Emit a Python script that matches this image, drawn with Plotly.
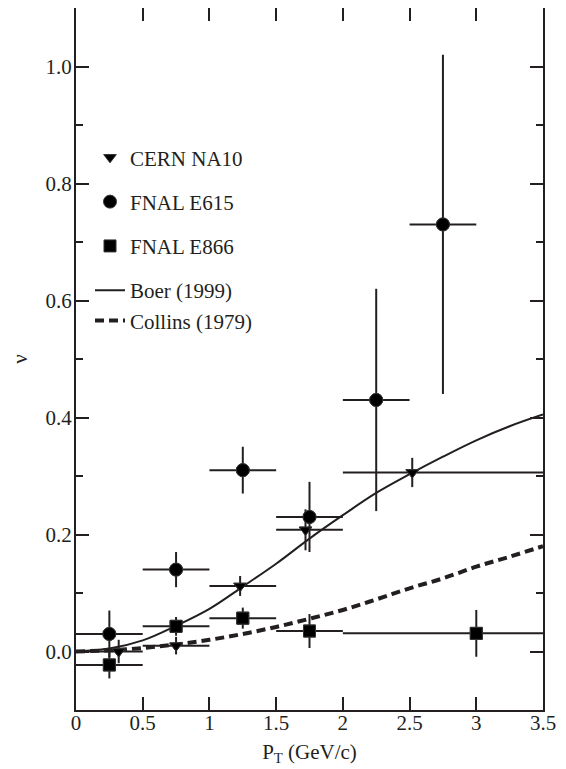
import plotly.graph_objects as go

# ---- data ----
# CERN NA10 (down triangles)
na10_x = [0.32, 0.75, 1.23, 1.72, 2.52]
na10_y = [0.000, 0.010, 0.112, 0.208, 0.306]
na10_lo = [0.0, 0.5, 1.0, 1.5, 2.0]
na10_hi = [0.5, 1.0, 1.5, 2.0, 3.5]
na10_err = [0.020, 0.015, 0.017, 0.035, 0.025]

# FNAL E615 (circles)
e615_x = [0.25, 0.75, 1.25, 1.75, 2.25, 2.75]
e615_y = [0.030, 0.140, 0.310, 0.230, 0.430, 0.730]
e615_lo = [0.0, 0.5, 1.0, 1.5, 2.0, 2.5]
e615_hi = [0.5, 1.0, 1.5, 2.0, 2.5, 3.0]
e615_err = [0.040, 0.030, 0.040, 0.060, 0.190, 0.290]

# FNAL E866 (squares)
e866_x = [0.25, 0.75, 1.25, 1.75, 3.00]
e866_y = [-0.023, 0.043, 0.057, 0.035, 0.031]
e866_lo = [0.0, 0.5, 1.0, 1.5, 2.0]
e866_hi = [0.5, 1.0, 1.5, 2.0, 3.5]
e866_err = [0.023, 0.016, 0.018, 0.029, 0.040]

# Theory curves
curve_x = [0.0, 0.25, 0.5, 0.75, 1.0, 1.25, 1.5, 1.75, 2.0, 2.25, 2.5, 2.75, 3.0, 3.25, 3.5]
boer_y = [0.0, 0.005, 0.019, 0.044, 0.073, 0.111, 0.150, 0.193, 0.233, 0.271, 0.303, 0.333, 0.361, 0.385, 0.405]
collins_y = [0.0, 0.002, 0.006, 0.012, 0.020, 0.030, 0.042, 0.056, 0.071, 0.089, 0.108, 0.125, 0.145, 0.162, 0.180]

INK = "#231f20"
FONT = "Liberation Serif"

def xerrs(xs, lo, hi):
    plus = [h - x for x, h in zip(xs, hi)]
    minus = [x - l for x, l in zip(xs, lo)]
    return plus, minus

fig = go.Figure()

def add_points(name, xs, ys, lo, hi, err, symbol, size, group, rank):
    plus, minus = xerrs(xs, lo, hi)
    fig.add_trace(go.Scatter(
        x=xs, y=ys, mode="markers", name=name, showlegend=False,
        marker=dict(symbol=symbol, size=size, color="black", line=dict(color="#333", width=1)),
        error_x=dict(type="data", symmetric=False, array=plus, arrayminus=minus,
                     color=INK, thickness=2, width=0),
        error_y=dict(type="data", array=err, color=INK, thickness=2, width=0),
    ))
    fig.add_trace(go.Scatter(
        x=xs, y=ys, mode="markers", name=name, legendgroup=group, legendrank=rank,
        marker=dict(symbol=symbol, size=size, color="black", line=dict(color="#333", width=1)),
        hoverinfo="skip",
    ))

fig.add_trace(go.Scatter(x=curve_x, y=boer_y, mode="lines", name="Boer (1999)",
                         legendgroup="g4", legendrank=4,
                         line=dict(color=INK, width=2, shape="spline")))
fig.add_trace(go.Scatter(x=curve_x, y=collins_y, mode="lines", name="Collins (1979)",
                         legendgroup="g4", legendrank=5,
                         line=dict(color=INK, width=4, shape="spline", dash="9px,5px")))

add_points("CERN NA10", na10_x, na10_y, na10_lo, na10_hi, na10_err, "triangle-down", 11, "g1", 1)
add_points("FNAL E615", e615_x, e615_y, e615_lo, e615_hi, e615_err, "circle", 13, "g2", 2)
add_points("FNAL E866", e866_x, e866_y, e866_lo, e866_hi, e866_err, "square", 12, "g3", 3)

# empty trace that keeps the label-only axes alive
fig.add_trace(go.Scatter(x=[], y=[], xaxis="x2", yaxis="y2", showlegend=False,
                         mode="markers", hoverinfo="skip"))

X_RANGE = [0, 3.5]
Y_RANGE = [-0.1, 1.1]

# frame + inside tick marks (no labels)
frame_axis = dict(
    showline=True, linecolor=INK, linewidth=2, mirror="ticks",
    ticks="inside", ticklen=13, tickwidth=2, tickcolor=INK,
    showgrid=False, zeroline=False, automargin=False, showticklabels=False,
)
# label-only axes
label_axis = dict(
    showline=False, showgrid=False, zeroline=False, automargin=False,
    showticklabels=True, tickfont=dict(family=FONT, size=21, color=INK),
)

# the page adds an 8px body margin, so the figure is sized to fit the window
fig.update_layout(
    width=558, height=761,
    margin=dict(l=68, r=23, t=0, b=59),
    paper_bgcolor="white", plot_bgcolor="white",
    font=dict(family=FONT, size=21, color=INK),
    xaxis=dict(range=X_RANGE, dtick=0.5, tick0=0, **frame_axis),
    yaxis=dict(range=Y_RANGE, dtick=0.2, tick0=0,
               minor=dict(dtick=0.1, tick0=0, ticks="inside", ticklen=7, tickwidth=2, tickcolor=INK),
               **frame_axis),
    xaxis2=dict(range=X_RANGE, dtick=0.5, tick0=0, overlaying="x", anchor="free", position=0.0034,
                side="bottom", ticks="",
                title=dict(text="P<sub>T</sub> (GeV/c)", font=dict(family=FONT, size=21, color=INK), standoff=10),
                **label_axis),
    yaxis2=dict(range=Y_RANGE, dtick=0.2, tick0=0, tickformat=".1f", overlaying="y", anchor="free",
                position=0, side="left", ticks="outside", ticklen=0, tickwidth=1,
                tickcolor="rgba(0,0,0,0)",
                title=dict(text="ν", font=dict(family=FONT, size=21, color=INK), standoff=11),
                **label_axis),
    legend=dict(x=0.03, y=0.816, xanchor="left", yanchor="top",
                bgcolor="rgba(0,0,0,0)", borderwidth=0,
                traceorder="grouped", tracegroupgap=14,
                font=dict(family=FONT, size=21, color=INK)),
    showlegend=True,
)

fig.write_html("out.html")
